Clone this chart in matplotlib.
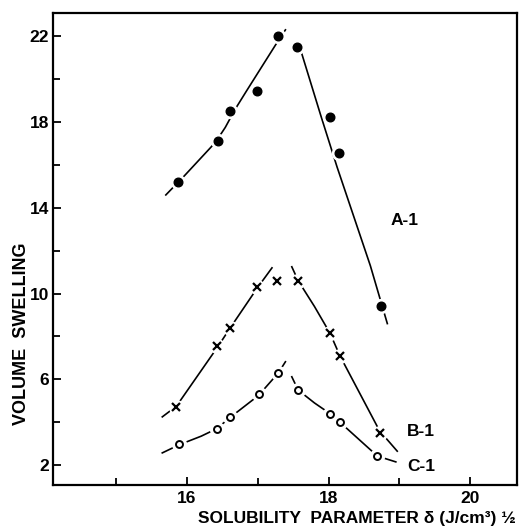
import matplotlib
matplotlib.use("Agg")
import matplotlib.pyplot as plt

# measured points (solubility parameter, volume swelling)
a_x = [15.87, 16.44, 16.61, 16.99, 17.28, 17.56, 18.02, 18.15, 18.74]
a_y = [15.2, 17.1, 18.5, 19.45, 22.0, 21.5, 18.25, 16.55, 9.4]
b_x = [15.85, 16.43, 16.61, 16.99, 17.27, 17.57, 18.02, 18.16, 18.72]
b_y = [4.7, 7.55, 8.4, 10.3, 10.6, 10.6, 8.15, 7.1, 3.5]
c_x = [15.89, 16.42, 16.6, 17.01, 17.29, 17.57, 18.02, 18.16, 18.69]
c_y = [2.98, 3.7, 4.25, 5.3, 6.3, 5.5, 4.4, 4.0, 2.42]

# hand drawn curves (left and right branches)
a_left_x = [15.70, 15.95, 16.40, 16.54, 16.68, 16.84, 17.27, 17.39]
a_left_y = [14.6, 15.45, 17.05, 17.75, 18.6, 19.45, 21.7, 22.3]
a_right_x = [17.62, 17.89, 18.12, 18.59, 18.83]
a_right_y = [21.2, 18.3, 15.9, 11.3, 8.6]
b_left_x = [15.65, 15.85, 16.43, 16.61, 16.99, 17.20]
b_left_y = [4.25, 4.75, 7.5, 8.4, 10.25, 11.2]
b_right_x = [17.48, 17.57, 17.8, 18.02, 18.16, 18.72, 18.97]
b_right_y = [11.25, 10.6, 9.4, 8.15, 7.1, 3.6, 2.65]
c_left_x = [15.65, 15.89, 16.2, 16.42, 16.6, 17.01, 17.29, 17.39]
c_left_y = [2.57, 2.95, 3.35, 3.7, 4.2, 5.25, 6.3, 6.82]
c_right_x = [17.48, 17.57, 17.8, 18.02, 18.16, 18.69, 18.95]
c_right_y = [6.12, 5.5, 4.9, 4.4, 4.0, 2.42, 2.15]

plt.rcParams['font.family'] = ['Liberation Sans', 'DejaVu Sans']
plt.rcParams['font.weight'] = 'bold'

fig = plt.figure(figsize=(5.25, 5.29), dpi=100)
ax = fig.add_axes([0.101, 0.083, 0.884, 0.893])

lw = 1.2
for cx, cy in [(a_left_x, a_left_y), (a_right_x, a_right_y),
               (b_left_x, b_left_y), (b_right_x, b_right_y),
               (c_left_x, c_left_y), (c_right_x, c_right_y)]:
    ax.plot(cx, cy, color='black', lw=lw, zorder=1, solid_joinstyle='round')

# white halos make the little gaps around the points
for px, py in [(a_x, a_y), (b_x, b_y), (c_x, c_y)]:
    ax.plot(px, py, 'o', ms=10, color='white', mec='white', zorder=2)

ax.plot(a_x, a_y, 'o', ms=6.2, color='black', zorder=3)
ax.plot(b_x, b_y, 'x', ms=5.5, mew=1.6, color='black', zorder=3)
ax.plot(c_x, c_y, 'o', ms=5, mfc='white', mec='black', mew=1.4, zorder=3)

ax.text(19.07, 13.4, 'A-1', fontsize=12.5, fontweight='bold', ha='center', va='center')
ax.text(19.31, 3.55, 'B-1', fontsize=12.5, fontweight='bold', ha='center', va='center')
ax.text(19.31, 1.95, 'C-1', fontsize=12.5, fontweight='bold', ha='center', va='center')

ax.set_xlim(14.106, 20.664)
ax.set_ylim(1.068, 23.1)
ax.set_xticks([16, 18, 20])
ax.set_xticks([15, 17, 19], minor=True)
ax.set_yticks([2, 6, 10, 14, 18, 22])
ax.set_yticks([4, 8, 12, 16, 20], minor=True)
ax.tick_params(which='both', direction='in', width=1.3, labelsize=12.5)
ax.tick_params(which='major', length=6)
ax.tick_params(which='minor', length=5)
ax.tick_params(axis='x', pad=4)
ax.tick_params(axis='y', pad=3)
for lab in ax.get_xticklabels() + ax.get_yticklabels():
    lab.set_fontweight('bold')
for s in ax.spines.values():
    s.set_linewidth(1.6)

ax.set_ylabel('VOLUME  SWELLING', fontsize=13, fontweight='bold')
ax.yaxis.set_label_coords(-0.05, 0.32)
ax.set_xlabel('SOLUBILITY  PARAMETER δ (J/cm³) ½', fontsize=12.5, fontweight='bold')
ax.xaxis.set_label_coords(0.655, -0.055)

fig.savefig('out.png', dpi=100)
